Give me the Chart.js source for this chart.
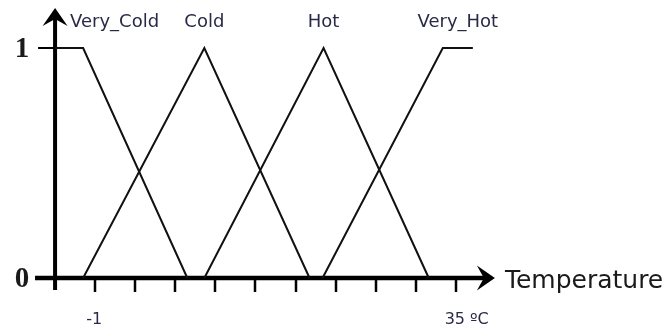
<!DOCTYPE html>
<html>
<head>
<meta charset="utf-8">
<script src="https://cdn.jsdelivr.net/npm/chart.js@4/dist/chart.umd.min.js"></script>
<style>
  html, body { margin: 0; padding: 0; background: #ffffff; }
  #wrap { width: 668px; height: 329px; position: relative; }
</style>
</head>
<body>
<div id="wrap"><canvas id="c" width="668" height="329"></canvas></div>
<script>
// Fuzzy membership functions for temperature (°C)
const termNames = ['Very_Cold', 'Cold', 'Hot', 'Very_Hot'];

const veryColdX = [-5, -2.2, 8.2];
const veryColdY = [1, 1, 0];
const coldX = [-2.2, 9.9, 20.4];
const coldY = [0, 1, 0];
const hotX = [9.9, 21.8, 32.3];
const hotY = [0, 1, 0];
const veryHotX = [21.7, 33.7, 36.7];
const veryHotY = [0, 1, 1];

// Axis ticks along the temperature axis and their labels
const xTickValues = [-1, 3, 7, 11, 15, 19, 23, 27, 31, 35];
const xTickLabelValues = [-1, 35];
const xTickLabels = ['-1', '35 ºC'];
const yTickValues = [0, 1];
const yTickLabels = ['0', '1'];
const xAxisTitle = 'Temperature';

const seriesX = [veryColdX, coldX, hotX, veryHotX];
const seriesY = [veryColdY, coldY, hotY, veryHotY];

const datasets = termNames.map((name, i) => ({
  label: name,
  data: seriesX[i].map((x, j) => ({ x: x, y: seriesY[i][j] })),
  showLine: true,
  borderColor: '#111111',
  borderWidth: 2,
  pointRadius: 0,
  tension: 0,
  fill: false,
  clip: false
}));

function arrowHead(ctx, tipX, tipY, dirX, dirY) {
  // filled arrowhead with a notched back
  const len = 18, half = 12.5, notch = 11;
  const px = -dirY, py = dirX;
  ctx.beginPath();
  ctx.moveTo(tipX, tipY);
  ctx.lineTo(tipX - dirX * len + px * half, tipY - dirY * len + py * half);
  ctx.lineTo(tipX - dirX * notch, tipY - dirY * notch);
  ctx.lineTo(tipX - dirX * len - px * half, tipY - dirY * len - py * half);
  ctx.closePath();
  ctx.fill();
}

const axesPlugin = {
  id: 'fuzzyAxes',
  beforeDatasetsDraw(chart) {
    const ctx = chart.ctx;
    const xs = chart.scales.x, ys = chart.scales.y;
    const originX = xs.getPixelForValue(-5);
    const baseY = ys.getPixelForValue(0);
    const oneY = ys.getPixelForValue(1);
    const xEnd = xs.getPixelForValue(38.9);
    const yTop = ys.getPixelForValue(1.174);
    ctx.save();
    ctx.strokeStyle = '#000';
    ctx.fillStyle = '#000';
    ctx.lineCap = 'butt';

    // horizontal axis
    ctx.lineWidth = 4.5;
    ctx.beginPath();
    ctx.moveTo(xs.getPixelForValue(-7), baseY);
    ctx.lineTo(xEnd - 8, baseY);
    ctx.stroke();
    arrowHead(ctx, xEnd, baseY, 1, 0);

    // vertical axis
    ctx.lineWidth = 4;
    ctx.beginPath();
    ctx.moveTo(originX, baseY + 12);
    ctx.lineTo(originX, yTop + 8);
    ctx.stroke();
    arrowHead(ctx, originX, yTop, 0, -1);

    // tick marks below the horizontal axis
    ctx.lineWidth = 2.5;
    xTickValues.forEach(v => {
      const px = Math.round(xs.getPixelForValue(v));
      ctx.beginPath();
      ctx.moveTo(px, baseY);
      ctx.lineTo(px, baseY + 14);
      ctx.stroke();
    });

    // tick for membership 1
    ctx.lineWidth = 2;
    ctx.beginPath();
    ctx.moveTo(xs.getPixelForValue(-6.7), oneY);
    ctx.lineTo(originX, oneY);
    ctx.stroke();

    // membership labels on the vertical axis
    ctx.font = 'bold 29px "Liberation Serif"';
    ctx.textAlign = 'center';
    ctx.textBaseline = 'middle';
    ctx.fillStyle = '#1a1a1a';
    yTickValues.forEach((v, i) => {
      ctx.fillText(yTickLabels[i], originX - 33, ys.getPixelForValue(v) + 2);
    });

    // temperature tick labels: the number is centred under its tick
    ctx.font = '16px "DejaVu Sans"';
    ctx.textAlign = 'left';
    ctx.fillStyle = '#2a2a48';
    xTickLabelValues.forEach((v, i) => {
      const txt = xTickLabels[i];
      const num = txt.split(' ')[0];
      const w = ctx.measureText(num).width;
      ctx.fillText(txt, xs.getPixelForValue(v) - w / 2 - 1, baseY + 42);
    });

    // axis title
    ctx.font = '25px "DejaVu Sans"';
    ctx.fillStyle = '#1a1a1a';
    ctx.textBaseline = 'alphabetic';
    ctx.fillText(xAxisTitle, xEnd + 10, baseY + 10);
    ctx.restore();
  },
  afterDatasetsDraw(chart) {
    const ctx = chart.ctx;
    const xs = chart.scales.x;
    const originX = xs.getPixelForValue(-5);
    ctx.save();
    ctx.font = '18px "DejaVu Sans"';
    ctx.fillStyle = '#2a2a48';
    ctx.textBaseline = 'alphabetic';
    ctx.textAlign = 'center';
    termNames.forEach((name, i) => {
      // centre of the plateau where membership equals 1
      const top = seriesX[i].filter((x, j) => seriesY[i][j] === 1);
      let cx = xs.getPixelForValue((Math.min(...top) + Math.max(...top)) / 2);
      const w = ctx.measureText(name).width;
      cx = Math.max(cx, originX + 15 + w / 2);
      ctx.fillText(name, cx, 27);
    });
    ctx.restore();
  }
};

new Chart(document.getElementById('c'), {
  type: 'scatter',
  data: { datasets: datasets },
  options: {
    responsive: false,
    animation: false,
    devicePixelRatio: 1,
    layout: { padding: { left: 15, right: 112, top: 48, bottom: 51 } },
    plugins: { legend: { display: false }, tooltip: { enabled: false }, title: { display: false } },
    scales: {
      x: { type: 'linear', min: -9, max: 45, display: false },
      y: { type: 'linear', min: 0, max: 1, display: false }
    }
  },
  plugins: [axesPlugin]
});
</script>
</body>
</html>
